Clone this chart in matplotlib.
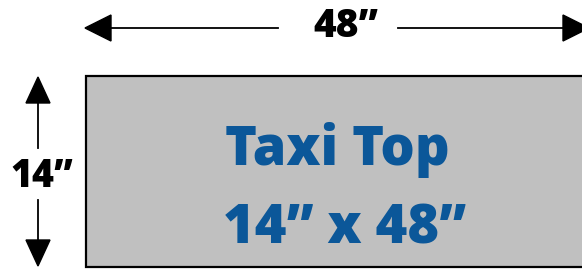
import matplotlib
matplotlib.use('Agg')
import matplotlib.pyplot as plt
from matplotlib.patches import Rectangle, Polygon

# label data
width_in = 48
height_in = 14
title = "Taxi Top"
width_label = f"{width_in}\u201d"
height_label = f"{height_in}\u201d"
size_label = f"{height_in}\u201d x {width_in}\u201d"

blue = '#0b5799'
grey = '#c0c0c0'
font = 'Open Sans'

fig = plt.figure(figsize=(5.82, 2.69), dpi=100)
ax = fig.add_axes([0, 0, 1, 1])
ax.set_xlim(0, 582)
ax.set_ylim(269, 0)
ax.axis('off')

# the sign panel
ax.add_patch(Rectangle((86, 76), 520, 191, facecolor=grey, edgecolor='black', lw=1.6))

# horizontal dimension arrow
ax.plot([105, 278], [28, 28], color='black', lw=1.3)
ax.plot([398, 570], [28, 28], color='black', lw=1.3)
ax.add_patch(Polygon([[85, 28], [111, 15], [111, 41]], closed=True, color='black'))
ax.add_patch(Polygon([[589, 28], [563, 15], [563, 41]], closed=True, color='black'))
ax.text(346, 37, width_label, ha='center', va='baseline', fontsize=28,
        fontweight='heavy', family=font, color='black')

# vertical dimension arrow
ax.plot([38, 38], [98, 148], color='black', lw=1.3)
ax.plot([38, 38], [200, 245], color='black', lw=1.3)
ax.add_patch(Polygon([[38, 77], [26, 103], [50, 103]], closed=True, color='black'))
ax.add_patch(Polygon([[38, 266], [26, 240], [50, 240]], closed=True, color='black'))
ax.text(42, 187, height_label, ha='center', va='baseline', fontsize=27,
        fontweight='heavy', family=font, color='black')

# panel text
ax.text(337, 165, title, ha='center', va='baseline', fontsize=39,
        fontweight='heavy', family=font, color=blue)
ax.text(345, 243, size_label, ha='center', va='baseline', fontsize=39,
        fontweight='heavy', family=font, color=blue)

fig.savefig('out.png', dpi=100)
